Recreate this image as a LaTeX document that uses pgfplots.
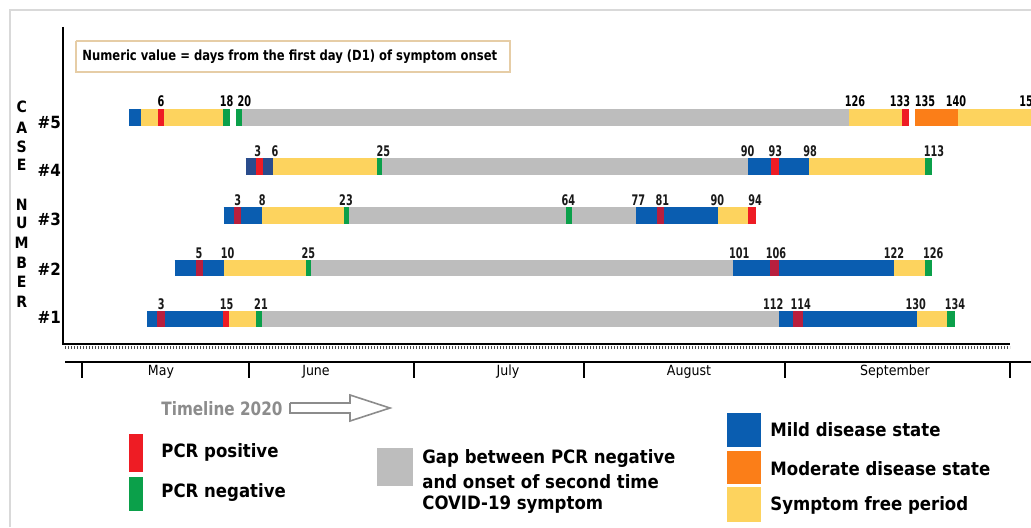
\documentclass[border=0pt]{standalone}
\usepackage{pgfplots}
\pgfplotsset{compat=1.18}
\usepackage{fontspec}
\setmainfont{DejaVu Sans Condensed}
\newfontfamily\numf{DejaVu Sans Condensed}[FakeStretch=0.74]
\newfontfamily\boxf{DejaVu Sans Condensed}[FakeStretch=0.92]
\definecolor{cblue}{HTML}{0A5DB0}
\definecolor{cnavy}{HTML}{2A4C8C}
\definecolor{cred}{HTML}{EE1C24}
\definecolor{ccrim}{HTML}{B81F3E}
\definecolor{cgreen}{HTML}{0BA04A}
\definecolor{cyellow}{HTML}{FDD35E}
\definecolor{corange}{HTML}{FB7E18}
\definecolor{cgray}{HTML}{BDBDBD}
\definecolor{ctan}{HTML}{E6CDA6}
\tikzset{seg/.style={line width=8.2pt, line cap=butt, mark=none},
  cl/.style={font=\bfseries\fontsize{7.8}{8}\selectfont, inner sep=0pt},
  cn/.style={font=\bfseries\fontsize{8.4}{9}\selectfont, inner sep=0pt},
  mo/.style={font=\fontsize{7}{8}\selectfont, inner sep=0pt},
  lg/.style={anchor=west, inner sep=0pt, font=\bfseries\fontsize{9.2}{10}\selectfont}}
\pgfplotsset{lab/.style={draw=none, mark=none, nodes near coords, point meta=explicit symbolic,
  every node near coord/.append style={anchor=base, inner sep=0pt, text=black!90, font=\numf\bfseries\fontsize{7.3}{8}\selectfont}}}
\begin{document}
\begin{tikzpicture}
\begin{axis}[scale only axis, width=515.5pt, height=263.5pt,
  xmin=0, xmax=1031, ymin=0, ymax=527, y dir=reverse, hide axis,
  clip=true, unbounded coords=jump]
% frame and axes
\addplot[draw=black!15, line width=0.6pt] coordinates {(10,527) (10,10) (1031,10)};
\addplot[black, line width=1.1pt] coordinates {(63,27) (63,344) (1010,344)};
\addplot[black!70, line width=1.4pt, dash pattern=on 0.4pt off 1.1pt] coordinates {(65,347.5) (1010,347.5)};
\addplot[black, line width=1.3pt] coordinates {(65,362) (1031,362)};
\addplot[black, line width=1pt] coordinates {(82,362) (82,378) (nan,nan) (249,362) (249,378) (nan,nan) (414,362) (414,378) (nan,nan) (584,362) (584,378) (nan,nan) (785,362) (785,378) (nan,nan) (1010,362) (1010,378)};
% segments
\addplot[seg, cgray] coordinates {(242.3,117.5) (849.3,117.5) (nan,nan) (382.3,166.3) (748.3,166.3) (nan,nan) (349.3,215.5) (636,215.5) (nan,nan) (311.3,268) (732.7,268) (nan,nan) (262.3,319) (779,319)};
\addplot[seg, cyellow] coordinates {(140.7,117.5) (223.3,117.5) (nan,nan) (849.3,117.5) (1031,117.5) (nan,nan)
  (272.7,166.3) (376.7,166.3) (nan,nan) (809.3,166.3) (925,166.3) (nan,nan)
  (262.3,215.5) (343.7,215.5) (nan,nan) (717.7,215.5) (748.3,215.5) (nan,nan)
  (223.7,268) (306,268) (nan,nan) (894,268) (924.7,268) (nan,nan)
  (229.3,319) (256,319) (nan,nan) (917.3,319) (947.3,319)};
\addplot[seg, cblue] coordinates {(129.3,117.5) (140.7,117.5) (nan,nan) (748.3,166.3) (809.3,166.3) (nan,nan)
  (223.7,215.5) (262.3,215.5) (nan,nan) (636,215.5) (717.7,215.5) (nan,nan)
  (174.7,268) (223.7,268) (nan,nan) (732.7,268) (894,268) (nan,nan)
  (147.3,319) (222.7,319) (nan,nan) (779,319) (917.3,319)};
\addplot[seg, cnavy] coordinates {(245.7,166.3) (272.7,166.3)};
\addplot[seg, corange] coordinates {(915,117.5) (958,117.5)};
\addplot[seg, white] coordinates {(230,117.5) (236,117.5) (nan,nan) (909,117.5) (915,117.5)};
\addplot[seg, cred] coordinates {(158,117.5) (163.7,117.5) (nan,nan) (902,117.5) (909,117.5) (nan,nan)
  (255.7,166.3) (263.3,166.3) (nan,nan) (770.7,166.3) (779.3,166.3) (nan,nan)
  (748.3,215.5) (756,215.5) (nan,nan) (222.7,319) (229.3,319)};
\addplot[seg, ccrim] coordinates {(234,215.5) (240.7,215.5) (nan,nan) (656.7,215.5) (664,215.5) (nan,nan)
  (196,268) (202.7,268) (nan,nan) (770,268) (779.3,268) (nan,nan)
  (157.3,319) (164.7,319) (nan,nan) (793.3,319) (802.7,319)};
\addplot[seg, cgreen] coordinates {(223.3,117.5) (230,117.5) (nan,nan) (236,117.5) (242.3,117.5) (nan,nan)
  (376.7,166.3) (382.3,166.3) (nan,nan) (925,166.3) (932.3,166.3) (nan,nan)
  (343.7,215.5) (349.3,215.5) (nan,nan) (566,215.5) (572,215.5) (nan,nan)
  (306,268) (311.3,268) (nan,nan) (924.7,268) (932.3,268) (nan,nan)
  (256,319) (262.3,319) (nan,nan) (947.3,319) (955,319)};
% day labels
\addplot[lab, every node near coord/.append style={text=black}] coordinates {(161,106.7) [6] (226.7,106.7) [18] (244.3,106.7) [20] (855,106.7) [126] (900,106.7) [133] (925,106.7) [135] (956,106.7) [140] (1026,106.7) [15]};
\addplot[lab] coordinates {(257.7,157) [3] (275,157) [6] (383.3,157) [25] (747.7,157) [90] (775.3,157) [93] (810,157) [98] (934,157) [113]};
\addplot[lab] coordinates {(237.7,205) [3] (262.3,205) [8] (346,205) [23] (568.3,205) [64] (638.3,205) [77] (662.3,205) [81] (717.3,205) [90] (755,205) [94]};
\addplot[lab] coordinates {(199,258.7) [5] (227.7,258.7) [10] (308.3,258.7) [25] (739.3,258.7) [101] (776,258.7) [106] (894,258.7) [122] (933.3,258.7) [126]};
\addplot[lab] coordinates {(161.3,309.7) [3] (226.7,309.7) [15] (261,309.7) [21] (773.3,309.7) [112] (800.7,309.7) [114] (915.7,309.7) [130] (955,309.7) [134]};
% note box
\addplot[draw=ctan, fill=white, line width=0.6pt] coordinates {(76,41) (510,41) (510,72) (76,72) (76,41)};
\node[anchor=west, inner sep=0pt, font=\boxf\bfseries\fontsize{7}{8}\selectfont] at (axis cs:82,57) {Numeric value = days from the first day (D1) of symptom onset};
% case labels
\node[cl] at (axis cs:21.7,106.7) {C};
\node[cl] at (axis cs:21.7,127.7) {A};
\node[cl] at (axis cs:21.7,146.7) {S};
\node[cl] at (axis cs:21.7,165) {E};
\node[cl] at (axis cs:21.7,205) {N};
\node[cl] at (axis cs:21.7,223.3) {U};
\node[cl] at (axis cs:21.7,243.3) {M};
\node[cl] at (axis cs:21.7,262.7) {B};
\node[cl] at (axis cs:21.7,281.7) {E};
\node[cl] at (axis cs:21.7,301.7) {R};
\node[cn] at (axis cs:49.3,122) {\#5};
\node[cn] at (axis cs:49.3,170) {\#4};
\node[cn] at (axis cs:49.3,219) {\#3};
\node[cn] at (axis cs:49.3,269) {\#2};
\node[cn] at (axis cs:49.3,317) {\#1};
% months
\node[mo] at (axis cs:161,372) {May};
\node[mo] at (axis cs:316,372) {June};
\node[mo] at (axis cs:508,372) {July};
\node[mo] at (axis cs:689,372) {August};
\node[mo] at (axis cs:895,372) {September};
% timeline arrow
\node[anchor=west, inner sep=0pt, text=black!45, font=\boxf\bfseries\fontsize{9.2}{10}\selectfont] at (axis cs:161,409) {Timeline 2020};
\addplot[draw=black!45, line width=0.8pt, fill=white] coordinates {(290,403) (350,403) (350,395) (390,408) (350,421) (350,413) (290,413) (290,403)};
% legend swatches
\addplot[cred, line width=6.7pt, line cap=butt] coordinates {(136,434) (136,472)};
\addplot[cgreen, line width=6.7pt, line cap=butt] coordinates {(136,477) (136,511)};
\addplot[cgray, line width=18.3pt, line cap=butt] coordinates {(395,448) (395,486)};
\addplot[cblue, line width=16.8pt, line cap=butt] coordinates {(744,413) (744,447)};
\addplot[corange, line width=16.8pt, line cap=butt] coordinates {(744,451) (744,484)};
\addplot[cyellow, line width=16.8pt, line cap=butt] coordinates {(744,487) (744,522)};
\node[lg] at (axis cs:161,452) {PCR positive};
\node[lg] at (axis cs:161,492.5) {PCR negative};
\node[lg] at (axis cs:422,458) {Gap between PCR negative};
\node[lg] at (axis cs:422,481.5) {and onset of second time};
\node[lg] at (axis cs:422,505) {COVID-19 symptom};
\node[lg] at (axis cs:770,430) {Mild disease state};
\node[lg] at (axis cs:770,469) {Moderate disease state};
\node[lg] at (axis cs:770,505) {Symptom free period};
\end{axis}
\pgfresetboundingbox
\path[use as bounding box] (current axis.south west) rectangle (current axis.north east);
\end{tikzpicture}
\end{document}
